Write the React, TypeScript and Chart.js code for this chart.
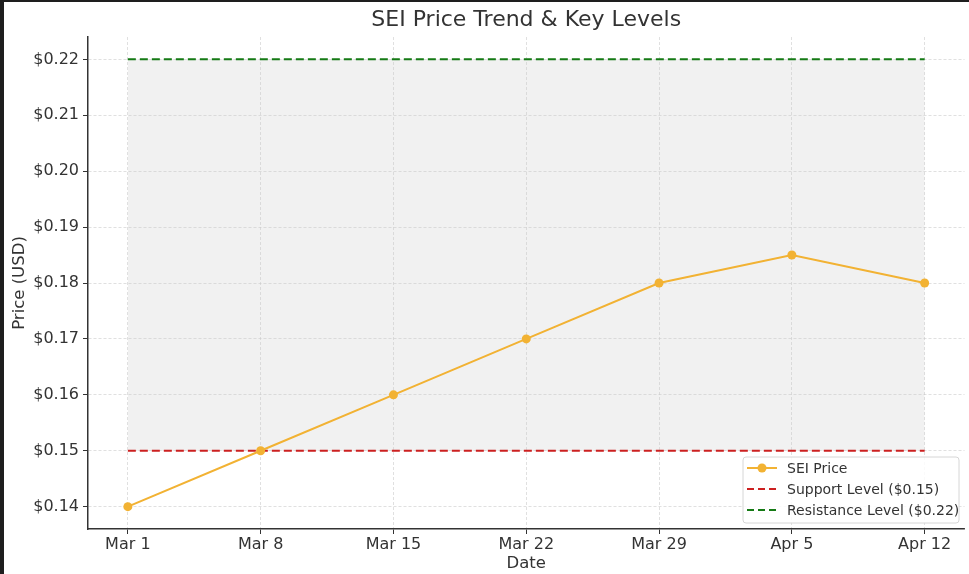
import { useEffect, useRef } from "react";
import { Chart, registerables, type Plugin } from "chart.js";

Chart.register(...registerables);

const dates = ["Mar 1", "Mar 8", "Mar 15", "Mar 22", "Mar 29", "Apr 5", "Apr 12"];
const prices = [0.14, 0.15, 0.16, 0.17, 0.18, 0.185, 0.18];
const supportLevel = 0.15;
const resistanceLevel = 0.22;
const yTicks = [0.14, 0.15, 0.16, 0.17, 0.18, 0.19, 0.2, 0.21, 0.22];

const FONT = "'DejaVu Sans', sans-serif";
const TEXT = "#333333";
const ORANGE = "#f2b233";
const RED = "#cc2020";
const GREEN = "#157a15";

const titlePlugin: Plugin = {
  id: "mplTitle",
  afterDraw(chart) {
    const { ctx, chartArea } = chart;
    ctx.save();
    ctx.fillStyle = TEXT;
    ctx.font = `22px ${FONT}`;
    ctx.textAlign = "center";
    ctx.textBaseline = "middle";
    ctx.fillText("SEI Price Trend & Key Levels", (chartArea.left + chartArea.right) / 2, 20);
    ctx.restore();
  },
};

const legendPlugin: Plugin = {
  id: "mplLegend",
  afterDraw(chart) {
    const { ctx } = chart;
    const x = 743;
    const y = 457;
    const w = 216;
    const h = 66;
    ctx.save();
    ctx.beginPath();
    ctx.roundRect(x, y, w, h, 3);
    ctx.fillStyle = "rgba(255,255,255,0.85)";
    ctx.fill();
    ctx.strokeStyle = "#d6d6d6";
    ctx.lineWidth = 1;
    ctx.stroke();

    const items = [
      { label: "SEI Price", color: ORANGE, dash: [] as number[], marker: true },
      { label: `Support Level ($${supportLevel.toFixed(2)})`, color: RED, dash: [7, 4], marker: false },
      { label: `Resistance Level ($${resistanceLevel.toFixed(2)})`, color: GREEN, dash: [7, 4], marker: false },
    ];
    ctx.font = `14px ${FONT}`;
    ctx.textBaseline = "middle";
    items.forEach((it, i) => {
      const ry = 468 + i * 21;
      ctx.beginPath();
      ctx.setLineDash(it.dash);
      ctx.strokeStyle = it.color;
      ctx.lineWidth = 2;
      ctx.moveTo(747, ry);
      ctx.lineTo(777, ry);
      ctx.stroke();
      ctx.setLineDash([]);
      if (it.marker) {
        ctx.beginPath();
        ctx.arc(762, ry, 4.5, 0, Math.PI * 2);
        ctx.fillStyle = it.color;
        ctx.fill();
      }
      ctx.fillStyle = TEXT;
      ctx.fillText(it.label, 787, ry + 1);
    });
    ctx.restore();
  },
};

const gridOpts = {
  color: "rgba(200,200,200,0.7)",
  lineWidth: 0.8,
  tickColor: TEXT,
  tickLength: 5,
  tickWidth: 1,
  tickBorderDash: [],
};

function PriceChart() {
  const canvasRef = useRef<HTMLCanvasElement>(null);

  useEffect(() => {
    if (!canvasRef.current) return;
    const last = dates.length - 1;

    const chart = new Chart(canvasRef.current, {
      type: "line",
      data: {
        datasets: [
          {
            label: "SEI Price",
            data: prices.map((v, i) => ({ x: i, y: v })),
            borderColor: ORANGE,
            backgroundColor: ORANGE,
            borderWidth: 2,
            pointRadius: 4.5,
            pointBorderWidth: 0,
            pointBackgroundColor: ORANGE,
            fill: false,
            order: 0,
          },
          {
            label: "Support",
            data: [
              { x: 0, y: supportLevel },
              { x: last, y: supportLevel },
            ],
            borderColor: RED,
            borderWidth: 2,
            borderDash: [8, 4],
            pointRadius: 0,
            fill: false,
            order: 1,
          },
          {
            label: "Resistance",
            data: [
              { x: 0, y: resistanceLevel },
              { x: last, y: resistanceLevel },
            ],
            borderColor: GREEN,
            borderWidth: 2,
            borderDash: [8, 4],
            pointRadius: 0,
            fill: { target: 1 },
            backgroundColor: "rgba(200,200,200,0.25)",
            order: 2,
          },
        ],
      },
      options: {
        animation: false,
        responsive: false,
        maintainAspectRatio: false,
        layout: { padding: { top: 37, right: 3, left: 0, bottom: 0 } },
        plugins: {
          legend: { display: false },
          title: { display: false },
          tooltip: { enabled: false },
        },
        scales: {
          x: {
            type: "linear",
            min: -0.3,
            max: last + 0.3,
            afterBuildTicks: (s) => {
              s.ticks = dates.map((_, i) => ({ value: i }));
            },
            afterFit: (s) => {
              s.height = 45;
            },
            ticks: {
              callback: (v) => dates[Number(v)] ?? "",
              color: TEXT,
              font: { family: FONT, size: 16 },
              padding: 1,
              maxRotation: 0,
              autoSkip: false,
            },
            grid: gridOpts,
            border: { color: "#333", width: 1.5, dash: [3, 2] },
            title: {
              display: true,
              text: "Date",
              color: TEXT,
              font: { family: FONT, size: 16.5 },
              padding: { top: 0, bottom: 0 },
            },
          },
          y: {
            min: 0.136,
            max: 0.224,
            afterBuildTicks: (s) => {
              s.ticks = yTicks.map((v) => ({ value: v }));
            },
            afterFit: (s) => {
              s.width = 88;
            },
            ticks: {
              callback: (v) => "$" + Number(v).toFixed(2),
              color: TEXT,
              font: { family: FONT, size: 16 },
              padding: 4,
            },
            grid: gridOpts,
            border: { color: "#333", width: 1.5, dash: [3, 2] },
            title: {
              display: true,
              text: "Price (USD)",
              color: TEXT,
              font: { family: FONT, size: 16.5 },
              padding: { top: 10, bottom: 4 },
            },
          },
        },
      },
      plugins: [titlePlugin, legendPlugin],
    });

    return () => {
      chart.destroy();
    };
  }, []);

  return <canvas ref={canvasRef} width={969} height={574} style={{ display: "block" }} />;
}

export default function App() {
  return (
    <div
      style={{
        position: "fixed",
        top: 0,
        left: 0,
        width: 969,
        height: 574,
        background: "#fff",
        overflow: "hidden",
      }}
    >
      <PriceChart />
      <div style={{ position: "absolute", top: 0, left: 0, width: 969, height: 2, background: "#1e1e1e" }} />
      <div style={{ position: "absolute", top: 0, left: 0, width: 4, height: 574, background: "#1e1e1e" }} />
    </div>
  );
}
